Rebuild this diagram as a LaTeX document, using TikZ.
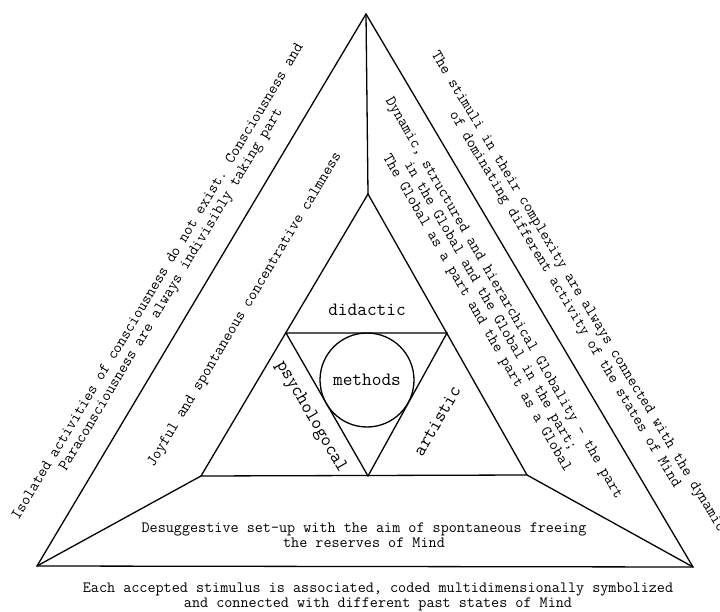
\documentclass[tikz,border=0pt]{standalone}
\usetikzlibrary{positioning}

\begin{document}
\begin{tikzpicture}[x=1pt, y=-1pt, line width=1.3pt,
		note/.style={font=\ttfamily\fontsize{15.7}{15.5}\selectfont, align=center, inner sep=0pt},
		method/.style={font=\ttfamily\fontsize{18.8}{18}\selectfont, inner sep=0pt}]

	\useasboundingbox (0,0) rectangle (720,612);

		\coordinate (top)	at (366,14);
		\coordinate (bl)	at (37,566);
		\coordinate (br)	at (693,567);
		\coordinate (mtop)	at (368,194);
		\coordinate (mbl)	at (201,476);
		\coordinate (mbr)	at (527,475);
		\coordinate (il)	at (286,333);
		\coordinate (ir)	at (447,333);
		\coordinate (ib)	at (368,476);

		\draw (top) -- (bl) -- (br) -- cycle;
		\draw (mtop) -- (mbl) -- (mbr) -- cycle;
		\draw (top) -- (mtop);
		\draw (bl) -- (mbl);
		\draw (br) -- (mbr);
		\draw (il) -- (ir) -- (ib) -- cycle;

		\node [circle, draw, minimum size=94pt, inner sep=0pt] (circ) at (367,380) {};
		\node [method]	(methods)	at (circ)			{methods};
		\node [method]	(didactic)	at (367,310)		{didactic};
		\node [method, rotate=-60]	(psycho)	at (311,417)	{psychologocal};
		\node [method, rotate=60]	(artistic)	at (437,421)	{artistic};

		\node [note, rotate=59]		(isolated)	at (165,286)	{Isolated activities of consciousness do not exist. Consciousness and\\Paraconsciousness are always indivisibly taking part};
		\node [note, rotate=59]		(joyful)	at (245,310)	{Joyful and spontaneous concentrative calmness};
		\node [note, rotate=-59]	(stimuli)	at (571,296)	{The stimuli in their complexity are always connected with the dynamic\\of dominating different activity of the states of Mind};
		\node [note, rotate=-60]	(globality)	at (490,306)	{Dynamic, structured and hierarchical Globality - the part\\in the Global and the Global in the part;\\The Global as a part and the part as a Global};
		\node [note]	(desugg)	at (364,535)	{Desuggestive set-up with the aim of spontaneous freeing\\the reserves of Mind};
		\node [note]	(accepted)	at (378,597)	{Each accepted stimulus is associated, coded multidimensionally symbolized\\and connected with different past states of Mind};

\end{tikzpicture}
\end{document}
